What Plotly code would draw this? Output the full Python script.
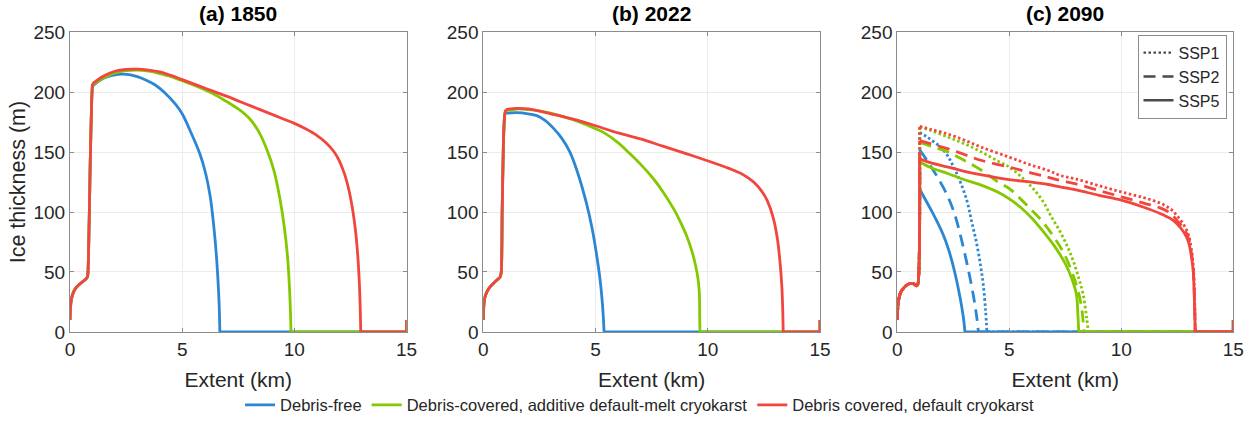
import plotly.graph_objects as go

W, H = 1254, 423

# ---------------------------------------------------------------------------
# Centreline ice-thickness profiles: extent along flowline (km) vs thickness (m)
# ---------------------------------------------------------------------------

# Upper-basin section and icefall shared by every profile of a panel
BASE_A_X = [0, 0.02, 0.06, 0.15, 0.3, 0.5, 0.7, 0.78, 0.82, 0.9, 0.97]
BASE_A_Y = [10, 20, 27, 33, 37.5, 41, 44, 46, 60, 140, 195]

BASE_B_X = [0, 0.02, 0.06, 0.15, 0.3, 0.5, 0.65, 0.74, 0.8, 0.84, 0.9, 0.96]
BASE_B_Y = [10, 21, 28, 33, 37.5, 41.5, 44, 45.5, 50, 100, 160, 182]

BASE_C_X = [0, 0.02, 0.07, 0.15, 0.3, 0.45, 0.6, 0.75, 0.85, 0.92]
BASE_C_Y = [10, 20, 28, 33, 37, 39.5, 40.5, 40, 38.5, 40]

# Ice-free forefield down to the end of the domain
TAIL_X = [15, 15]
TAIL_Y = [0, 10]

# (a) 1850
A_FREE_X = [1.0, 1.3, 1.6, 2.0, 2.3, 2.7, 3.0, 3.4, 3.8, 4.2, 4.7, 5.0, 5.4, 5.8, 6.05, 6.25, 6.4, 6.52,
            6.6, 6.65, 6.68]
A_FREE_Y = [205, 209.5, 212.5, 214.5, 215, 214.5, 213, 210, 206, 200, 190, 182, 166, 148, 132, 113, 90, 65,
            42, 22, 0]
A_ADD_X = [1.0, 1.5, 2.0, 2.5, 3.0, 3.5, 4.0, 4.5, 5.0, 5.5, 6.0, 6.5, 7.0, 7.5, 8.0, 8.4, 8.8, 9.1, 9.35,
           9.55, 9.7, 9.78, 9.83, 9.85]
A_ADD_Y = [206, 212, 216, 218, 218.5, 217.5, 215.5, 213, 209.5, 206, 202, 197.5, 192, 186, 178, 167.5, 151,
           134, 112, 88, 62, 38, 15, 0]
A_DEF_X = [1.0, 1.5, 2.0, 2.5, 3.0, 3.5, 4.0, 4.5, 5.0, 6.0, 7.0, 8.0, 9.0, 10.0, 10.5, 11.0, 11.4, 11.76,
           12.0, 12.25, 12.45, 12.6, 12.73, 12.83, 12.9, 12.94, 12.96]
A_DEF_Y = [207, 213.5, 217.5, 219, 219.2, 218.5, 217, 214, 210.5, 203.5, 196.5, 189, 181.5, 174, 169.5, 164,
           158, 150.5, 143, 131, 117, 102, 84, 63, 40, 18, 0]

# (b) 2022
B_FREE_X = [1.0, 1.5, 2.0, 2.38, 2.75, 3.12, 3.5, 3.86, 4.2, 4.6, 4.85, 5.05, 5.2, 5.3, 5.36, 5.38]
B_FREE_Y = [182.5, 183, 182, 180.5, 176.5, 170, 161.5, 150, 133, 107, 86, 64, 44, 25, 8, 0]
B_ADD_X = [1.0, 1.5, 2.0, 2.5, 3.0, 3.5, 4.0, 4.5, 5.0, 5.35, 6.0, 6.4, 7.0, 7.57, 8.0, 8.5, 8.8, 9.06, 9.3,
           9.45, 9.56, 9.62, 9.64, 9.65]
B_ADD_Y = [184.5, 186, 185.5, 184.5, 182.5, 180, 177, 173.5, 169.5, 166.5, 158, 151, 140, 128, 117, 102, 91,
           80, 67, 56, 45, 34, 15, 0]
B_DEF_X = [1.0, 1.5, 2.0, 3.0, 4.0, 5.0, 6.0, 7.0, 8.0, 9.0, 9.95, 10.5, 11.0, 11.5, 11.8, 12.1, 12.4, 12.65,
           12.92, 13.1, 13.22, 13.3, 13.34, 13.36]
B_DEF_Y = [185.5, 186.5, 186, 182, 177.5, 172, 166, 161, 155, 149, 143, 139.5, 136, 132, 128.5, 124, 117.5,
           109.5, 95, 78, 58, 38, 18, 0]

# (c) 2090 under three SSP scenarios
C_FREE_SSP1_X = [1.0, 1.3, 1.68, 2.0, 2.28, 2.5, 2.73, 3.1, 3.32, 3.54, 3.72, 3.84, 3.94, 4.0]
C_FREE_SSP1_Y = [166.5, 163, 158, 153, 146, 138, 129, 110, 92, 74, 55, 39, 18, 0]
C_FREE_SSP2_X = [1.0, 1.4, 1.83, 2.28, 2.58, 2.8, 3.1, 3.39, 3.55, 3.62]
C_FREE_SSP2_Y = [152, 141, 128, 112, 97, 82, 58, 31, 12, 0]
C_FREE_SSP5_X = [1.0, 1.25, 1.5, 1.75, 2.05, 2.3, 2.55, 2.8, 2.95, 3.02]
C_FREE_SSP5_Y = [119, 110.5, 102, 93, 81, 68, 51, 29, 12, 0]

C_ADD_SSP1_X = [1.0, 1.5, 2.28, 3.0, 3.77, 4.5, 5.0, 5.5, 6.0, 6.5, 6.88, 7.26, 7.6, 7.86, 8.1, 8.3, 8.45, 8.53]
C_ADD_SSP1_Y = [171, 168, 162.4, 157, 150, 142.5, 137.5, 130, 121, 109, 96, 84, 71, 59, 45, 31, 12, 0]
C_ADD_SSP2_X = [1.0, 1.5, 2.28, 3.0, 3.77, 4.5, 5.0, 5.5, 6.0, 6.44, 7.0, 7.48, 8.0, 8.23, 8.33]
C_ADD_SSP2_Y = [158.4, 155, 150, 143, 134.7, 125, 119.5, 111, 101.6, 93, 79, 64, 39, 20, 0]
C_ADD_SSP5_X = [1.0, 1.5, 2.28, 3.0, 3.77, 4.5, 5.0, 5.5, 6.0, 6.5, 7.0, 7.5, 7.8, 8.0, 8.06, 8.1]
C_ADD_SSP5_Y = [141.7, 137, 132, 127, 122.3, 116.5, 111, 104, 95, 84, 72, 57, 44, 31, 15, 0]

C_DEF_X = [1.0, 1.5, 2.28, 3.0, 3.77, 5.0, 6.0, 6.74, 7.26, 7.93, 9.0, 10.0, 11.0, 11.73, 12.2, 12.47,
           12.8, 13.0, 13.12, 13.21, 13.27, 13.3]
C_DEF_SSP1_Y = [171.5, 169, 165, 160, 154, 145.8, 139, 134.7, 130.6, 127.8, 122, 116.8, 112, 107.5, 102.5, 97.4,
                89, 81, 70, 56, 30, 0]
C_DEF_SSP2_Y = [159.6, 157, 152.7, 148, 143, 137.5, 132.5, 129, 126.4, 123.7, 118, 112.7, 107.5, 103.5, 99, 93.3,
                86, 78, 67, 53, 25, 0]
C_DEF_SSP5_Y = [144.4, 141, 137.5, 134, 131, 127, 125, 123, 121, 118.7, 114, 110, 104, 98.8, 94.5, 90.5,
                83, 75, 64, 51, 22, 0]

SCENARIOS = ["Debris-free", "Debris-covered, additive default-melt cryokarst", "Debris covered, default cryokarst"]
SSP_NAMES = ["SSP1", "SSP2", "SSP5"]
PANEL_TITLES = ["(a) 1850", "(b) 2022", "(c) 2090"]
X_TICKS = [0, 5, 10, 15]
Y_TICKS = [0, 50, 100, 150, 200, 250]

# ---------------------------------------------------------------------------
COLORS = ["#2b87d3", "#84c800", "#f2453d"]
SSP_DASH = {"SSP1": "2.5px,2.5px", "SSP2": "12px,7px", "SSP5": "solid"}
LW = 2.8
FONT = "Liberation Sans, Arial, sans-serif"
TXT = "#262626"

PANEL_PX = [(70, 406.5), (483.3, 820), (897.3, 1233.3)]
Y_PX = (32.5, 334.3)

fig = go.Figure()


def add_profile(base_x, base_y, px, py, color, dash, xa, ya, name=None):
    """One glacier profile: smooth upper basin + icefall, smooth tongue, flat forefield."""
    line = dict(color=color, width=LW, dash=dash)
    common = dict(mode="lines", xaxis=xa, yaxis=ya, hoverinfo="x+y")
    # upper basin and icefall, ending on the first tongue point
    fig.add_trace(go.Scatter(x=base_x + px[:1], y=base_y + py[:1], showlegend=False,
                             line=dict(line, shape="spline", smoothing=0.6), **common))
    # glacier tongue down to the terminus
    fig.add_trace(go.Scatter(x=px, y=py, name=name, showlegend=name is not None, legend="legend",
                             line=dict(line, shape="spline", smoothing=1.0), **common))
    # ice-free forefield
    fig.add_trace(go.Scatter(x=px[-1:] + TAIL_X, y=py[-1:] + TAIL_Y, showlegend=False,
                             line=line, **common))


panel_a = [(A_FREE_X, A_FREE_Y), (A_ADD_X, A_ADD_Y), (A_DEF_X, A_DEF_Y)]
for k, (px, py) in enumerate(panel_a):
    add_profile(BASE_A_X, BASE_A_Y, px, py, COLORS[k], "solid", "x", "y", name=SCENARIOS[k])

panel_b = [(B_FREE_X, B_FREE_Y), (B_ADD_X, B_ADD_Y), (B_DEF_X, B_DEF_Y)]
for k, (px, py) in enumerate(panel_b):
    add_profile(BASE_B_X, BASE_B_Y, px, py, COLORS[k], "solid", "x2", "y2")

panel_c = [
    [(C_FREE_SSP1_X, C_FREE_SSP1_Y), (C_FREE_SSP2_X, C_FREE_SSP2_Y), (C_FREE_SSP5_X, C_FREE_SSP5_Y)],
    [(C_ADD_SSP1_X, C_ADD_SSP1_Y), (C_ADD_SSP2_X, C_ADD_SSP2_Y), (C_ADD_SSP5_X, C_ADD_SSP5_Y)],
    [(C_DEF_X, C_DEF_SSP1_Y), (C_DEF_X, C_DEF_SSP2_Y), (C_DEF_X, C_DEF_SSP5_Y)],
]
for k, runs in enumerate(panel_c):
    for ssp, (px, py) in zip(SSP_NAMES, runs):
        add_profile(BASE_C_X, BASE_C_Y, px, py, COLORS[k], SSP_DASH[ssp], "x3", "y3")

# line-style key for the scenarios
for ssp in SSP_NAMES:
    fig.add_trace(go.Scatter(x=[None], y=[None], mode="lines", name=ssp,
                             line=dict(color="#4a4a4a", width=2.4, dash=SSP_DASH[ssp]),
                             xaxis="x3", yaxis="y3", legend="legend2"))

ydom = [1 - Y_PX[1] / H, 1 - Y_PX[0] / H]
axis_common = dict(
    showline=True, linecolor="#8c8c8c", linewidth=1, mirror="ticks",
    ticks="inside", ticklen=4, tickcolor="#8c8c8c",
    showgrid=True, gridcolor="#ebebeb", gridwidth=1, zeroline=False,
    tickfont=dict(family=FONT, size=19, color=TXT),
)

layout = dict(
    width=W, height=H, autosize=False,
    margin=dict(l=0, r=0, t=0, b=0),
    paper_bgcolor="white", plot_bgcolor="white",
    font=dict(family=FONT, color=TXT),
    showlegend=True,
    legend=dict(orientation="h", x=0.51, xanchor="center", y=1 - 408 / H, yanchor="middle",
                font=dict(family=FONT, size=16.5, color=TXT), itemwidth=30,
                bgcolor="rgba(0,0,0,0)", tracegroupgap=0),
    legend2=dict(x=1226.5 / W, xanchor="right", y=1 - 35 / H, yanchor="top",
                 font=dict(family=FONT, size=16, color=TXT), itemwidth=30,
                 bgcolor="white", bordercolor="#8c8c8c", borderwidth=1, tracegroupgap=0),
    annotations=[],
)

for i, (x0, x1) in enumerate(PANEL_PX):
    sfx = "" if i == 0 else str(i + 1)
    layout["xaxis" + sfx] = dict(
        axis_common, domain=[x0 / W, x1 / W], range=[0, 15], tickvals=X_TICKS,
        anchor="y" + sfx,
        title=dict(text="Extent (km)", font=dict(family=FONT, size=21, color=TXT), standoff=13),
        automargin=False,
    )
    layout["yaxis" + sfx] = dict(
        axis_common, domain=ydom, range=[0, 250], tickvals=Y_TICKS,
        anchor="x" + sfx, automargin=False,
        title=dict(text="Ice thickness (m)" if i == 0 else "",
                   font=dict(family=FONT, size=21.5, color=TXT), standoff=1),
    )
    layout["annotations"].append(dict(
        text="<b>%s</b>" % PANEL_TITLES[i], x=(x0 + x1) / 2 / W, y=1 - 14 / H,
        xref="paper", yref="paper", xanchor="center", yanchor="middle", showarrow=False,
        font=dict(family=FONT, size=21, color="#000000"),
    ))

fig.update_layout(layout)
fig.write_html("out.html")
